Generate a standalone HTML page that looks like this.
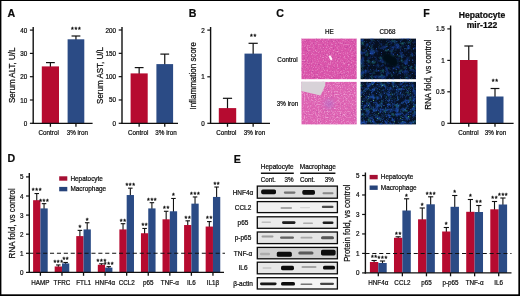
<!DOCTYPE html>
<html><head><meta charset="utf-8"><title>Figure</title>
<style>
html,body{margin:0;padding:0;background:#fff;}
body{width:520px;height:296px;overflow:hidden;position:relative;}
svg{display:block;position:absolute;left:0;top:0;}
svg text{font-family:"Liberation Sans",sans-serif;fill:#0c0c0c;stroke:#0c0c0c;stroke-width:0.22px;}
svg text.st{stroke-width:0.3px;}
#frame{position:absolute;left:0;top:0;width:520px;height:296px;box-sizing:border-box;border-style:solid;border-color:#000;border-width:1px 1.5px 2px 1.5px;pointer-events:none;}
</style></head><body>
<svg width="520" height="296" viewBox="0 0 520 296">
<defs>
<filter id="b1" x="-30%" y="-150%" width="160%" height="400%"><feGaussianBlur stdDeviation="0.65"/></filter>
<filter id="b05" x="-10%" y="-10%" width="120%" height="120%"><feGaussianBlur stdDeviation="0.5"/></filter>
<filter id="b12" x="-30%" y="-30%" width="160%" height="160%"><feGaussianBlur stdDeviation="1.2"/></filter>
<filter id="b2" x="-30%" y="-30%" width="160%" height="160%"><feGaussianBlur stdDeviation="2"/></filter>
<filter id="he" x="0" y="0" width="100%" height="100%" color-interpolation-filters="sRGB">
  <feTurbulence type="fractalNoise" baseFrequency="0.7" numOctaves="2" seed="3" result="n"/>
  <feColorMatrix in="n" type="matrix" values="0 0 0 0 0  0 0 0 0 0  0 0 0 0 0  2.4 0 0 0 -1.2" result="a"/>
  <feFlood flood-color="#eea0d2" result="f"/>
  <feComposite in="f" in2="a" operator="in" result="spots"/>
  <feColorMatrix in="n" type="matrix" values="0 0 0 0 0  0 0 0 0 0  0 0 0 0 0  0 3 0 0 -1.7" result="a2"/>
  <feFlood flood-color="#b8409c" result="f2"/>
  <feComposite in="f2" in2="a2" operator="in" result="dk"/>
  <feMerge result="m"><feMergeNode in="SourceGraphic"/><feMergeNode in="dk"/><feMergeNode in="spots"/></feMerge>
  <feGaussianBlur in="m" stdDeviation="0.45" result="bl"/>
  <feComposite in="bl" in2="SourceGraphic" operator="in"/>
</filter>
<filter id="he2" x="0" y="0" width="100%" height="100%" color-interpolation-filters="sRGB">
  <feTurbulence type="fractalNoise" baseFrequency="0.7" numOctaves="2" seed="11" result="n"/>
  <feColorMatrix in="n" type="matrix" values="0 0 0 0 0  0 0 0 0 0  0 0 0 0 0  2.4 0 0 0 -1.15" result="a"/>
  <feFlood flood-color="#f2b0dc" result="f"/>
  <feComposite in="f" in2="a" operator="in" result="spots"/>
  <feColorMatrix in="n" type="matrix" values="0 0 0 0 0  0 0 0 0 0  0 0 0 0 0  0 3 0 0 -1.75" result="a2"/>
  <feFlood flood-color="#c050a8" result="f2"/>
  <feComposite in="f2" in2="a2" operator="in" result="dk"/>
  <feMerge result="m"><feMergeNode in="SourceGraphic"/><feMergeNode in="dk"/><feMergeNode in="spots"/></feMerge>
  <feGaussianBlur in="m" stdDeviation="0.45" result="bl"/>
  <feComposite in="bl" in2="SourceGraphic" operator="in"/>
</filter>
<filter id="cd" x="0" y="0" width="100%" height="100%" color-interpolation-filters="sRGB">
  <feTurbulence type="fractalNoise" baseFrequency="0.2" numOctaves="3" seed="5" result="n"/>
  <feColorMatrix in="n" type="matrix" values="0 0 0 0 0  0 0 0 0 0  0 0 0 0 0  3.0 0 0 0 -1.45" result="a"/>
  <feFlood flood-color="#143888" result="f"/>
  <feComposite in="f" in2="a" operator="in" result="haze"/>
  <feColorMatrix in="n" type="matrix" values="0 0 0 0 0  0 0 0 0 0  0 0 0 0 0  0 0 3.2 0 -1.75" result="at"/>
  <feFlood flood-color="#1a5a66" result="ft"/>
  <feComposite in="ft" in2="at" operator="in" result="teal"/>
  <feTurbulence type="fractalNoise" baseFrequency="0.75" numOctaves="2" seed="15" result="n2"/>
  <feColorMatrix in="n2" type="matrix" values="0 0 0 0 0  0 0 0 0 0  0 0 0 0 0  0 3.5 0 0 -2.2" result="a2"/>
  <feFlood flood-color="#2a5cc0" result="f2"/>
  <feComposite in="f2" in2="a2" operator="in" result="spots"/>
  <feMerge result="m"><feMergeNode in="SourceGraphic"/><feMergeNode in="teal"/><feMergeNode in="haze"/><feMergeNode in="spots"/></feMerge>
  <feGaussianBlur in="m" stdDeviation="0.4" result="bl"/>
  <feComposite in="bl" in2="SourceGraphic" operator="in"/>
</filter>
<filter id="cd2" x="0" y="0" width="100%" height="100%" color-interpolation-filters="sRGB">
  <feTurbulence type="fractalNoise" baseFrequency="0.24" numOctaves="3" seed="8" result="n"/>
  <feColorMatrix in="n" type="matrix" values="0 0 0 0 0  0 0 0 0 0  0 0 0 0 0  3.0 0 0 0 -1.35" result="a"/>
  <feFlood flood-color="#184298" result="f"/>
  <feComposite in="f" in2="a" operator="in" result="haze"/>
  <feColorMatrix in="n" type="matrix" values="0 0 0 0 0  0 0 0 0 0  0 0 0 0 0  0 0 3.2 0 -1.7" result="at"/>
  <feFlood flood-color="#1c6068" result="ft"/>
  <feComposite in="ft" in2="at" operator="in" result="teal"/>
  <feTurbulence type="fractalNoise" baseFrequency="0.75" numOctaves="2" seed="18" result="n2"/>
  <feColorMatrix in="n2" type="matrix" values="0 0 0 0 0  0 0 0 0 0  0 0 0 0 0  0 3.5 0 0 -2.05" result="a2"/>
  <feFlood flood-color="#2c60c8" result="f2"/>
  <feComposite in="f2" in2="a2" operator="in" result="spots"/>
  <feColorMatrix in="n2" type="matrix" values="0 0 0 0 0  0 0 0 0 0  0 0 0 0 0  0 0 9 0 -6.6" result="a3"/>
  <feFlood flood-color="#58b070" result="f3"/>
  <feComposite in="f3" in2="a3" operator="in" result="gr"/>
  <feMerge result="m"><feMergeNode in="SourceGraphic"/><feMergeNode in="teal"/><feMergeNode in="haze"/><feMergeNode in="spots"/><feMergeNode in="gr"/></feMerge>
  <feGaussianBlur in="m" stdDeviation="0.4" result="bl"/>
  <feComposite in="bl" in2="SourceGraphic" operator="in"/>
</filter>
</defs>
<rect x="0" y="0" width="520" height="296" fill="#fff"/>
<text transform="translate(11.3 16.7) scale(0.95 1)" font-size="11.2" text-anchor="middle" font-weight="bold">A</text>
<line x1="50.40" y1="67.40" x2="50.40" y2="62.60" stroke="#111" stroke-width="1.2"/>
<line x1="46.00" y1="62.60" x2="54.80" y2="62.60" stroke="#111" stroke-width="1.2"/>
<rect x="41.80" y="66.40" width="17.20" height="56.90" fill="#b60b30"/>
<line x1="75.95" y1="40.30" x2="75.95" y2="36.00" stroke="#111" stroke-width="1.2"/>
<line x1="71.55" y1="36.00" x2="80.35" y2="36.00" stroke="#111" stroke-width="1.2"/>
<rect x="67.60" y="39.30" width="16.70" height="84.00" fill="#2b4b85"/>
<text class="st" transform="translate(76.19999999999999 31.599999999999998) scale(1.0 1)" font-size="7.2" text-anchor="middle" font-weight="normal" letter-spacing="0.65">***</text>
<line x1="33.20" y1="27.00" x2="33.20" y2="124.00" stroke="#111" stroke-width="1.4"/>
<line x1="29.90" y1="30.10" x2="33.20" y2="30.10" stroke="#111" stroke-width="1.2"/>
<text transform="translate(27.3 32.599999999999994) scale(0.94 1)" font-size="6.7" text-anchor="end" font-weight="normal">40</text>
<line x1="29.90" y1="53.40" x2="33.20" y2="53.40" stroke="#111" stroke-width="1.2"/>
<text transform="translate(27.3 55.89999999999999) scale(0.94 1)" font-size="6.7" text-anchor="end" font-weight="normal">30</text>
<line x1="29.90" y1="76.70" x2="33.20" y2="76.70" stroke="#111" stroke-width="1.2"/>
<text transform="translate(27.3 79.19999999999999) scale(0.94 1)" font-size="6.7" text-anchor="end" font-weight="normal">20</text>
<line x1="29.90" y1="100.00" x2="33.20" y2="100.00" stroke="#111" stroke-width="1.2"/>
<text transform="translate(27.3 102.5) scale(0.94 1)" font-size="6.7" text-anchor="end" font-weight="normal">10</text>
<line x1="29.90" y1="123.30" x2="33.20" y2="123.30" stroke="#111" stroke-width="1.2"/>
<text transform="translate(27.3 125.8) scale(0.94 1)" font-size="6.7" text-anchor="end" font-weight="normal">0</text>
<line x1="32.55" y1="123.30" x2="92.60" y2="123.30" stroke="#111" stroke-width="1.3"/>
<line x1="50.40" y1="123.30" x2="50.40" y2="126.80" stroke="#111" stroke-width="1.3"/>
<line x1="75.95" y1="123.30" x2="75.95" y2="126.80" stroke="#111" stroke-width="1.3"/>
<text transform="translate(48.7 135.1) scale(0.9 1)" font-size="7.0" text-anchor="middle" font-weight="normal">Control</text>
<text transform="translate(77.3 135.1) scale(0.9 1)" font-size="7.0" text-anchor="middle" font-weight="normal">3% iron</text>
<text transform="translate(15.0 75.3) rotate(-90) scale(0.87 1)" font-size="9.2" text-anchor="middle" font-weight="normal">Serum ALT, U/L</text>
<line x1="139.15" y1="74.40" x2="139.15" y2="67.60" stroke="#111" stroke-width="1.2"/>
<line x1="134.75" y1="67.60" x2="143.55" y2="67.60" stroke="#111" stroke-width="1.2"/>
<rect x="130.60" y="73.40" width="17.10" height="49.90" fill="#b60b30"/>
<line x1="164.75" y1="65.10" x2="164.75" y2="54.10" stroke="#111" stroke-width="1.2"/>
<line x1="160.35" y1="54.10" x2="169.15" y2="54.10" stroke="#111" stroke-width="1.2"/>
<rect x="156.40" y="64.10" width="16.70" height="59.20" fill="#2b4b85"/>
<line x1="122.00" y1="27.00" x2="122.00" y2="124.00" stroke="#111" stroke-width="1.4"/>
<line x1="118.70" y1="30.00" x2="122.00" y2="30.00" stroke="#111" stroke-width="1.2"/>
<text transform="translate(116.10000000000001 32.5) scale(0.94 1)" font-size="6.7" text-anchor="end" font-weight="normal">200</text>
<line x1="118.70" y1="53.33" x2="122.00" y2="53.33" stroke="#111" stroke-width="1.2"/>
<text transform="translate(116.10000000000001 55.825) scale(0.94 1)" font-size="6.7" text-anchor="end" font-weight="normal">150</text>
<line x1="118.70" y1="76.65" x2="122.00" y2="76.65" stroke="#111" stroke-width="1.2"/>
<text transform="translate(116.10000000000001 79.15) scale(0.94 1)" font-size="6.7" text-anchor="end" font-weight="normal">100</text>
<line x1="118.70" y1="99.97" x2="122.00" y2="99.97" stroke="#111" stroke-width="1.2"/>
<text transform="translate(116.10000000000001 102.475) scale(0.94 1)" font-size="6.7" text-anchor="end" font-weight="normal">50</text>
<line x1="118.70" y1="123.30" x2="122.00" y2="123.30" stroke="#111" stroke-width="1.2"/>
<text transform="translate(116.10000000000001 125.8) scale(0.94 1)" font-size="6.7" text-anchor="end" font-weight="normal">0</text>
<line x1="121.35" y1="123.30" x2="178.00" y2="123.30" stroke="#111" stroke-width="1.3"/>
<line x1="139.15" y1="123.30" x2="139.15" y2="126.80" stroke="#111" stroke-width="1.3"/>
<line x1="164.75" y1="123.30" x2="164.75" y2="126.80" stroke="#111" stroke-width="1.3"/>
<text transform="translate(138.2 135.1) scale(0.9 1)" font-size="7.0" text-anchor="middle" font-weight="normal">Control</text>
<text transform="translate(166 135.1) scale(0.9 1)" font-size="7.0" text-anchor="middle" font-weight="normal">3% iron</text>
<text transform="translate(103.3 75.5) rotate(-90) scale(0.87 1)" font-size="9.2" text-anchor="middle" font-weight="normal">Serum AST, U/L</text>
<text transform="translate(192.5 16.7) scale(0.95 1)" font-size="11.2" text-anchor="middle" font-weight="bold">B</text>
<line x1="227.50" y1="109.10" x2="227.50" y2="98.30" stroke="#111" stroke-width="1.2"/>
<line x1="222.90" y1="98.30" x2="232.10" y2="98.30" stroke="#111" stroke-width="1.2"/>
<rect x="218.80" y="108.10" width="17.40" height="15.20" fill="#b60b30"/>
<line x1="253.15" y1="54.60" x2="253.15" y2="43.30" stroke="#111" stroke-width="1.2"/>
<line x1="248.55" y1="43.30" x2="257.75" y2="43.30" stroke="#111" stroke-width="1.2"/>
<rect x="244.50" y="53.60" width="17.30" height="69.70" fill="#2b4b85"/>
<text class="st" transform="translate(253.4 38.8) scale(1.0 1)" font-size="7.2" text-anchor="middle" font-weight="normal" letter-spacing="0.65">**</text>
<line x1="210.60" y1="27.00" x2="210.60" y2="124.00" stroke="#111" stroke-width="1.4"/>
<line x1="207.30" y1="30.10" x2="210.60" y2="30.10" stroke="#111" stroke-width="1.2"/>
<text transform="translate(204.7 32.6) scale(0.94 1)" font-size="6.7" text-anchor="end" font-weight="normal">2</text>
<line x1="207.30" y1="76.80" x2="210.60" y2="76.80" stroke="#111" stroke-width="1.2"/>
<text transform="translate(204.7 79.3) scale(0.94 1)" font-size="6.7" text-anchor="end" font-weight="normal">1</text>
<line x1="207.30" y1="123.30" x2="210.60" y2="123.30" stroke="#111" stroke-width="1.2"/>
<text transform="translate(204.7 125.8) scale(0.94 1)" font-size="6.7" text-anchor="end" font-weight="normal">0</text>
<line x1="209.95" y1="123.30" x2="270.00" y2="123.30" stroke="#111" stroke-width="1.3"/>
<line x1="227.50" y1="123.30" x2="227.50" y2="126.80" stroke="#111" stroke-width="1.3"/>
<line x1="253.15" y1="123.30" x2="253.15" y2="126.80" stroke="#111" stroke-width="1.3"/>
<text transform="translate(226.3 135.1) scale(0.9 1)" font-size="7.0" text-anchor="middle" font-weight="normal">Control</text>
<text transform="translate(254.5 135.1) scale(0.9 1)" font-size="7.0" text-anchor="middle" font-weight="normal">3% iron</text>
<text transform="translate(195.8 75.8) rotate(-90) scale(0.87 1)" font-size="9.2" text-anchor="middle" font-weight="normal">Inflammation score</text>
<text transform="translate(280 16.7) scale(0.95 1)" font-size="11.2" text-anchor="middle" font-weight="bold">C</text>
<text transform="translate(329.3 33.9) scale(0.9 1)" font-size="7.0" text-anchor="middle" font-weight="normal">HE</text>
<text transform="translate(387.5 33.9) scale(0.9 1)" font-size="7.0" text-anchor="middle" font-weight="normal">CD68</text>
<text transform="translate(287.5 61.5) scale(0.9 1)" font-size="7.0" text-anchor="middle" font-weight="normal">Control</text>
<text transform="translate(287.5 106) scale(0.9 1)" font-size="7.0" text-anchor="middle" font-weight="normal">3% iron</text>
<rect x="301.3" y="38.4" width="55.5" height="41" fill="#da54aa" filter="url(#he)"/>
<rect x="301.3" y="81.7" width="55.5" height="42.9" fill="#de62b2" filter="url(#he2)"/>
<ellipse cx="329" cy="104" rx="5" ry="5" fill="#a878d0" opacity="0.45" filter="url(#b2)"/>
<path d="M301.3 81.7h24.2l-.5 4.3-4.5 9.5-6.5-1.5-12.7-3z" fill="#d8d2d8" filter="url(#b05)"/>
<path d="M328.6 56l1.6-.8 1.2 1.6 1 2.6-1.6 1-1.2-1.8z" fill="#fbeef6"/>
<rect x="360.4" y="38.4" width="55.6" height="41" fill="#060f20" filter="url(#cd)"/>
<ellipse cx="390.5" cy="60" rx="9.5" ry="5.5" transform="rotate(35 390.5 60)" fill="#040a18" opacity="1" filter="url(#b12)"/>
<rect x="360.4" y="81.7" width="55.6" height="42.9" fill="#071226" filter="url(#cd2)"/>
<text transform="translate(426.5 16.7) scale(0.95 1)" font-size="11.2" text-anchor="middle" font-weight="bold">F</text>
<text transform="translate(482 17.5) scale(1.0 1)" font-size="8.6" text-anchor="middle" font-weight="bold">Hepatocyte</text>
<text transform="translate(482 27.7) scale(1.0 1)" font-size="8.6" text-anchor="middle" font-weight="bold">mir-122</text>
<line x1="468.75" y1="61.00" x2="468.75" y2="46.00" stroke="#111" stroke-width="1.2"/>
<line x1="464.35" y1="46.00" x2="473.15" y2="46.00" stroke="#111" stroke-width="1.2"/>
<rect x="460.00" y="60.00" width="17.50" height="63.30" fill="#b60b30"/>
<line x1="495.00" y1="97.50" x2="495.00" y2="88.50" stroke="#111" stroke-width="1.2"/>
<line x1="490.60" y1="88.50" x2="499.40" y2="88.50" stroke="#111" stroke-width="1.2"/>
<rect x="486.50" y="96.50" width="17.00" height="26.80" fill="#2b4b85"/>
<text class="st" transform="translate(495.25 84.3) scale(1.0 1)" font-size="7.2" text-anchor="middle" font-weight="normal" letter-spacing="0.65">**</text>
<line x1="450.60" y1="25.50" x2="450.60" y2="124.00" stroke="#111" stroke-width="1.4"/>
<line x1="447.30" y1="28.90" x2="450.60" y2="28.90" stroke="#111" stroke-width="1.2"/>
<text transform="translate(444.7 31.4) scale(0.94 1)" font-size="6.7" text-anchor="end" font-weight="normal">1.5</text>
<line x1="447.30" y1="60.40" x2="450.60" y2="60.40" stroke="#111" stroke-width="1.2"/>
<text transform="translate(444.7 62.9) scale(0.94 1)" font-size="6.7" text-anchor="end" font-weight="normal">1</text>
<line x1="447.30" y1="91.80" x2="450.60" y2="91.80" stroke="#111" stroke-width="1.2"/>
<text transform="translate(444.7 94.3) scale(0.94 1)" font-size="6.7" text-anchor="end" font-weight="normal">0.5</text>
<line x1="447.30" y1="123.30" x2="450.60" y2="123.30" stroke="#111" stroke-width="1.2"/>
<text transform="translate(444.7 125.8) scale(0.94 1)" font-size="6.7" text-anchor="end" font-weight="normal">0</text>
<line x1="449.95" y1="123.30" x2="513.60" y2="123.30" stroke="#111" stroke-width="1.3"/>
<line x1="468.75" y1="123.30" x2="468.75" y2="126.80" stroke="#111" stroke-width="1.3"/>
<line x1="495.00" y1="123.30" x2="495.00" y2="126.80" stroke="#111" stroke-width="1.3"/>
<text transform="translate(468.4 135.1) scale(0.9 1)" font-size="7.0" text-anchor="middle" font-weight="normal">Control</text>
<text transform="translate(495.5 135.1) scale(0.9 1)" font-size="7.0" text-anchor="middle" font-weight="normal">3% iron</text>
<text transform="translate(431 74.6) rotate(-90) scale(0.87 1)" font-size="9.2" text-anchor="middle" font-weight="normal">RNA fold, vs control</text>
<text transform="translate(11.3 162) scale(0.95 1)" font-size="11.2" text-anchor="middle" font-weight="bold">D</text>
<line x1="36.75" y1="201.20" x2="36.75" y2="193.52" stroke="#111" stroke-width="1.1"/>
<line x1="34.49" y1="193.52" x2="39.01" y2="193.52" stroke="#111" stroke-width="1.1"/>
<rect x="33.10" y="200.20" width="7.30" height="72.20" fill="#b60b30"/>
<text class="st" transform="translate(37.0 193.41699999999997) scale(1.0 1)" font-size="7.2" text-anchor="middle" font-weight="normal" letter-spacing="0.65">***</text>
<line x1="44.05" y1="209.41" x2="44.05" y2="203.64" stroke="#111" stroke-width="1.1"/>
<line x1="41.79" y1="203.64" x2="46.31" y2="203.64" stroke="#111" stroke-width="1.1"/>
<rect x="40.40" y="208.41" width="7.30" height="63.99" fill="#2b4b85"/>
<text class="st" transform="translate(44.3 203.54) scale(1.0 1)" font-size="7.2" text-anchor="middle" font-weight="normal" letter-spacing="0.65">***</text>
<text transform="translate(40.4 284.6) scale(0.9 1)" font-size="7.0" text-anchor="middle" font-weight="normal">HAMP</text>
<line x1="40.40" y1="272.40" x2="40.40" y2="275.80" stroke="#111" stroke-width="1.3"/>
<line x1="58.32" y1="267.48" x2="58.32" y2="264.95" stroke="#111" stroke-width="1.1"/>
<line x1="56.06" y1="264.95" x2="60.58" y2="264.95" stroke="#111" stroke-width="1.1"/>
<rect x="54.67" y="266.48" width="7.30" height="5.92" fill="#b60b30"/>
<text class="st" transform="translate(58.57 264.851) scale(1.0 1)" font-size="7.2" text-anchor="middle" font-weight="normal" letter-spacing="0.65">***</text>
<line x1="65.62" y1="264.42" x2="65.62" y2="262.47" stroke="#111" stroke-width="1.1"/>
<line x1="63.36" y1="262.47" x2="67.88" y2="262.47" stroke="#111" stroke-width="1.1"/>
<rect x="61.97" y="263.42" width="7.30" height="8.98" fill="#2b4b85"/>
<text class="st" transform="translate(65.87 262.368) scale(1.0 1)" font-size="7.2" text-anchor="middle" font-weight="normal" letter-spacing="0.65">**</text>
<text transform="translate(61.97 284.6) scale(0.9 1)" font-size="7.0" text-anchor="middle" font-weight="normal">TFRC</text>
<line x1="61.97" y1="272.40" x2="61.97" y2="275.80" stroke="#111" stroke-width="1.3"/>
<line x1="79.89" y1="237.11" x2="79.89" y2="230.38" stroke="#111" stroke-width="1.1"/>
<line x1="77.63" y1="230.38" x2="82.15" y2="230.38" stroke="#111" stroke-width="1.1"/>
<rect x="76.24" y="236.11" width="7.30" height="36.29" fill="#b60b30"/>
<text class="st" transform="translate(80.13999999999999 230.27999999999997) scale(1.0 1)" font-size="7.2" text-anchor="middle" font-weight="normal" letter-spacing="0.65">*</text>
<line x1="87.19" y1="230.42" x2="87.19" y2="222.74" stroke="#111" stroke-width="1.1"/>
<line x1="84.93" y1="222.74" x2="89.45" y2="222.74" stroke="#111" stroke-width="1.1"/>
<rect x="83.54" y="229.42" width="7.30" height="42.97" fill="#2b4b85"/>
<text class="st" transform="translate(87.44 222.64) scale(1.0 1)" font-size="7.2" text-anchor="middle" font-weight="normal" letter-spacing="0.65">*</text>
<text transform="translate(83.53999999999999 284.6) scale(0.9 1)" font-size="7.0" text-anchor="middle" font-weight="normal">FTL1</text>
<line x1="83.54" y1="272.40" x2="83.54" y2="275.80" stroke="#111" stroke-width="1.3"/>
<line x1="101.46" y1="265.76" x2="101.46" y2="263.80" stroke="#111" stroke-width="1.1"/>
<line x1="99.20" y1="263.80" x2="103.72" y2="263.80" stroke="#111" stroke-width="1.1"/>
<rect x="97.81" y="264.76" width="7.30" height="7.64" fill="#b60b30"/>
<text class="st" transform="translate(101.71000000000001 263.705) scale(1.0 1)" font-size="7.2" text-anchor="middle" font-weight="normal" letter-spacing="0.65">***</text>
<line x1="108.76" y1="268.62" x2="108.76" y2="266.67" stroke="#111" stroke-width="1.1"/>
<line x1="106.50" y1="266.67" x2="111.02" y2="266.67" stroke="#111" stroke-width="1.1"/>
<rect x="105.11" y="267.62" width="7.30" height="4.77" fill="#2b4b85"/>
<text class="st" transform="translate(109.01000000000002 266.57) scale(1.0 1)" font-size="7.2" text-anchor="middle" font-weight="normal" letter-spacing="0.65">***</text>
<text transform="translate(105.11000000000001 284.6) scale(0.9 1)" font-size="7.0" text-anchor="middle" font-weight="normal">HNF4α</text>
<line x1="105.11" y1="272.40" x2="105.11" y2="275.80" stroke="#111" stroke-width="1.3"/>
<line x1="123.03" y1="230.42" x2="123.03" y2="223.69" stroke="#111" stroke-width="1.1"/>
<line x1="120.77" y1="223.69" x2="125.29" y2="223.69" stroke="#111" stroke-width="1.1"/>
<rect x="119.38" y="229.42" width="7.30" height="42.97" fill="#b60b30"/>
<text class="st" transform="translate(123.28 223.595) scale(1.0 1)" font-size="7.2" text-anchor="middle" font-weight="normal" letter-spacing="0.65">**</text>
<line x1="130.33" y1="196.04" x2="130.33" y2="188.17" stroke="#111" stroke-width="1.1"/>
<line x1="128.07" y1="188.17" x2="132.59" y2="188.17" stroke="#111" stroke-width="1.1"/>
<rect x="126.68" y="195.04" width="7.30" height="77.36" fill="#2b4b85"/>
<text class="st" transform="translate(130.58 188.069) scale(1.0 1)" font-size="7.2" text-anchor="middle" font-weight="normal" letter-spacing="0.65">***</text>
<text transform="translate(126.68 284.6) scale(0.9 1)" font-size="7.0" text-anchor="middle" font-weight="normal">CCL2</text>
<line x1="126.68" y1="272.40" x2="126.68" y2="275.80" stroke="#111" stroke-width="1.3"/>
<line x1="144.60" y1="234.24" x2="144.60" y2="228.47" stroke="#111" stroke-width="1.1"/>
<line x1="142.34" y1="228.47" x2="146.86" y2="228.47" stroke="#111" stroke-width="1.1"/>
<rect x="140.95" y="233.24" width="7.30" height="39.16" fill="#b60b30"/>
<text class="st" transform="translate(144.85 228.36999999999998) scale(1.0 1)" font-size="7.2" text-anchor="middle" font-weight="normal" letter-spacing="0.65">**</text>
<line x1="151.90" y1="209.41" x2="151.90" y2="202.68" stroke="#111" stroke-width="1.1"/>
<line x1="149.64" y1="202.68" x2="154.16" y2="202.68" stroke="#111" stroke-width="1.1"/>
<rect x="148.25" y="208.41" width="7.30" height="63.99" fill="#2b4b85"/>
<text class="st" transform="translate(152.15 202.58499999999998) scale(1.0 1)" font-size="7.2" text-anchor="middle" font-weight="normal" letter-spacing="0.65">***</text>
<text transform="translate(148.25 284.6) scale(0.9 1)" font-size="7.0" text-anchor="middle" font-weight="normal">p65</text>
<line x1="148.25" y1="272.40" x2="148.25" y2="275.80" stroke="#111" stroke-width="1.3"/>
<line x1="166.17" y1="220.30" x2="166.17" y2="211.28" stroke="#111" stroke-width="1.1"/>
<line x1="163.91" y1="211.28" x2="168.43" y2="211.28" stroke="#111" stroke-width="1.1"/>
<rect x="162.52" y="219.30" width="7.30" height="53.10" fill="#b60b30"/>
<text class="st" transform="translate(166.42000000000002 211.17999999999998) scale(1.0 1)" font-size="7.2" text-anchor="middle" font-weight="normal" letter-spacing="0.65">**</text>
<line x1="173.47" y1="212.28" x2="173.47" y2="198.48" stroke="#111" stroke-width="1.1"/>
<line x1="171.21" y1="198.48" x2="175.73" y2="198.48" stroke="#111" stroke-width="1.1"/>
<rect x="169.82" y="211.28" width="7.30" height="61.12" fill="#2b4b85"/>
<text class="st" transform="translate(173.72000000000003 198.38299999999998) scale(1.0 1)" font-size="7.2" text-anchor="middle" font-weight="normal" letter-spacing="0.65">*</text>
<text transform="translate(169.82000000000002 284.6) scale(0.9 1)" font-size="7.0" text-anchor="middle" font-weight="normal">TNF-α</text>
<line x1="169.82" y1="272.40" x2="169.82" y2="275.80" stroke="#111" stroke-width="1.3"/>
<line x1="187.74" y1="226.03" x2="187.74" y2="220.83" stroke="#111" stroke-width="1.1"/>
<line x1="185.48" y1="220.83" x2="190.00" y2="220.83" stroke="#111" stroke-width="1.1"/>
<rect x="184.09" y="225.03" width="7.30" height="47.37" fill="#b60b30"/>
<text class="st" transform="translate(187.99 220.73) scale(1.0 1)" font-size="7.2" text-anchor="middle" font-weight="normal" letter-spacing="0.65">**</text>
<line x1="195.04" y1="204.64" x2="195.04" y2="196.95" stroke="#111" stroke-width="1.1"/>
<line x1="192.78" y1="196.95" x2="197.30" y2="196.95" stroke="#111" stroke-width="1.1"/>
<rect x="191.39" y="203.64" width="7.30" height="68.76" fill="#2b4b85"/>
<text class="st" transform="translate(195.29000000000002 196.855) scale(1.0 1)" font-size="7.2" text-anchor="middle" font-weight="normal" letter-spacing="0.65">***</text>
<text transform="translate(191.39000000000001 284.6) scale(0.9 1)" font-size="7.0" text-anchor="middle" font-weight="normal">IL6</text>
<line x1="191.39" y1="272.40" x2="191.39" y2="275.80" stroke="#111" stroke-width="1.3"/>
<line x1="209.31" y1="227.56" x2="209.31" y2="221.59" stroke="#111" stroke-width="1.1"/>
<line x1="207.05" y1="221.59" x2="211.57" y2="221.59" stroke="#111" stroke-width="1.1"/>
<rect x="205.66" y="226.56" width="7.30" height="45.84" fill="#b60b30"/>
<text class="st" transform="translate(209.56 221.49399999999997) scale(1.0 1)" font-size="7.2" text-anchor="middle" font-weight="normal" letter-spacing="0.65">**</text>
<line x1="216.61" y1="197.95" x2="216.61" y2="187.02" stroke="#111" stroke-width="1.1"/>
<line x1="214.35" y1="187.02" x2="218.87" y2="187.02" stroke="#111" stroke-width="1.1"/>
<rect x="212.96" y="196.95" width="7.30" height="75.44" fill="#2b4b85"/>
<text class="st" transform="translate(216.86 186.92299999999997) scale(1.0 1)" font-size="7.2" text-anchor="middle" font-weight="normal" letter-spacing="0.65">**</text>
<text transform="translate(212.96 284.6) scale(0.9 1)" font-size="7.0" text-anchor="middle" font-weight="normal">IL1β</text>
<line x1="212.96" y1="272.40" x2="212.96" y2="275.80" stroke="#111" stroke-width="1.3"/>
<line x1="29.30" y1="173.00" x2="29.30" y2="273.10" stroke="#111" stroke-width="1.4"/>
<line x1="26.00" y1="176.90" x2="29.30" y2="176.90" stroke="#111" stroke-width="1.2"/>
<text transform="translate(23.4 179.39999999999998) scale(0.94 1)" font-size="6.7" text-anchor="end" font-weight="normal">5</text>
<line x1="26.00" y1="196.00" x2="29.30" y2="196.00" stroke="#111" stroke-width="1.2"/>
<text transform="translate(23.4 198.49999999999997) scale(0.94 1)" font-size="6.7" text-anchor="end" font-weight="normal">4</text>
<line x1="26.00" y1="215.10" x2="29.30" y2="215.10" stroke="#111" stroke-width="1.2"/>
<text transform="translate(23.4 217.59999999999997) scale(0.94 1)" font-size="6.7" text-anchor="end" font-weight="normal">3</text>
<line x1="26.00" y1="234.20" x2="29.30" y2="234.20" stroke="#111" stroke-width="1.2"/>
<text transform="translate(23.4 236.7) scale(0.94 1)" font-size="6.7" text-anchor="end" font-weight="normal">2</text>
<line x1="26.00" y1="253.30" x2="29.30" y2="253.30" stroke="#111" stroke-width="1.2"/>
<text transform="translate(23.4 255.79999999999998) scale(0.94 1)" font-size="6.7" text-anchor="end" font-weight="normal">1</text>
<line x1="26.00" y1="272.40" x2="29.30" y2="272.40" stroke="#111" stroke-width="1.2"/>
<text transform="translate(23.4 274.9) scale(0.94 1)" font-size="6.7" text-anchor="end" font-weight="normal">0</text>
<line x1="28.65" y1="272.40" x2="224.00" y2="272.40" stroke="#111" stroke-width="1.3"/>
<line x1="29.30" y1="253.30" x2="225.00" y2="253.30" stroke="#111" stroke-width="1.05" stroke-dasharray="4.1 2.8"/>
<text transform="translate(14.9 223.3) rotate(-90) scale(0.87 1)" font-size="9.2" text-anchor="middle" font-weight="normal">RNA fold, vs control</text>
<rect x="59.20" y="176.30" width="8.10" height="4.40" fill="#a50f33"/>
<text transform="translate(70.4 180.8) scale(0.92 1)" font-size="7.0" text-anchor="start" font-weight="normal">Hepatocyte</text>
<rect x="59.20" y="186.90" width="8.10" height="4.40" fill="#26437a"/>
<text transform="translate(70.4 191.20000000000002) scale(0.92 1)" font-size="7.0" text-anchor="start" font-weight="normal">Macrophage</text>
<text transform="translate(237.2 162.7) scale(0.95 1)" font-size="11.2" text-anchor="middle" font-weight="bold">E</text>
<text transform="translate(277.2 168.7) scale(0.93 1)" font-size="7.0" text-anchor="middle" font-weight="normal">Hepatocyte</text>
<text transform="translate(317.8 168.7) scale(0.93 1)" font-size="7.0" text-anchor="middle" font-weight="normal">Macrophage</text>
<line x1="260.90" y1="173.30" x2="293.80" y2="173.30" stroke="#111" stroke-width="1.4"/>
<line x1="300.20" y1="173.30" x2="335.40" y2="173.30" stroke="#111" stroke-width="1.4"/>
<text transform="translate(268.3 182.3) scale(0.9 1)" font-size="7.0" text-anchor="middle" font-weight="normal">Cont.</text>
<text transform="translate(289 182.3) scale(0.9 1)" font-size="7.0" text-anchor="middle" font-weight="normal">3%</text>
<text transform="translate(307.5 182.3) scale(0.9 1)" font-size="7.0" text-anchor="middle" font-weight="normal">Cont.</text>
<text transform="translate(329.3 182.3) scale(0.9 1)" font-size="7.0" text-anchor="middle" font-weight="normal">3%</text>
<rect x="257.3" y="186.1" width="80.1" height="12.1" fill="#dedede"/>
<rect x="261.2" y="189.60" width="14.8" height="4.6" rx="1.6" fill="#080808" opacity="1.0" filter="url(#b1)"/>
<rect x="283.8" y="191.50" width="11.7" height="2.2" rx="1.1" fill="#080808" opacity="0.5" filter="url(#b1)"/>
<rect x="302.3" y="190.10" width="12.7" height="4.6" rx="1.6" fill="#080808" opacity="1.0" filter="url(#b1)"/>
<rect x="322.5" y="192.20" width="11.0" height="2.0" rx="1.0" fill="#080808" opacity="0.4" filter="url(#b1)"/>
<rect x="257.3" y="186.1" width="80.1" height="12.1" fill="none" stroke="#0a0a0a" stroke-width="1.3"/>
<text transform="translate(243 194.54999999999998) scale(0.93 1)" font-size="7.0" text-anchor="middle" font-weight="normal">HNF4α</text>
<rect x="257.3" y="201.6" width="80.1" height="11.0" fill="#f1f1f1"/>
<rect x="280.5" y="207.10" width="11.5" height="1.8" rx="0.9" fill="#080808" opacity="0.32" filter="url(#b1)"/>
<rect x="300" y="207.00" width="10.0" height="1.2" rx="0.6" fill="#080808" opacity="0.12" filter="url(#b1)"/>
<rect x="321.8" y="205.80" width="11.7" height="2.2" rx="1.1" fill="#080808" opacity="0.72" filter="url(#b1)"/>
<rect x="257.3" y="201.6" width="80.1" height="11.0" fill="none" stroke="#0a0a0a" stroke-width="1.3"/>
<text transform="translate(243 209.5) scale(0.93 1)" font-size="7.0" text-anchor="middle" font-weight="normal">CCL2</text>
<rect x="257.3" y="216.8" width="80.1" height="11.5" fill="#ececec"/>
<rect x="261.5" y="221.50" width="9.5" height="1.4" rx="0.7" fill="#080808" opacity="0.2" filter="url(#b1)"/>
<rect x="282" y="221.30" width="13.5" height="2.6" rx="1.3" fill="#080808" opacity="0.92" filter="url(#b1)"/>
<rect x="303" y="222.45" width="10.0" height="1.5" rx="0.8" fill="#080808" opacity="0.28" filter="url(#b1)"/>
<rect x="322.6" y="221.50" width="10.9" height="2.6" rx="1.3" fill="#080808" opacity="0.92" filter="url(#b1)"/>
<rect x="257.3" y="216.8" width="80.1" height="11.5" fill="none" stroke="#0a0a0a" stroke-width="1.3"/>
<text transform="translate(243 224.95000000000002) scale(0.93 1)" font-size="7.0" text-anchor="middle" font-weight="normal">p65</text>
<rect x="257.3" y="232" width="80.1" height="11.6" fill="#e5e5e5"/>
<rect x="261.5" y="235.60" width="12.0" height="2.0" rx="1.0" fill="#080808" opacity="0.32" filter="url(#b1)"/>
<rect x="280" y="236.40" width="14.0" height="2.4" rx="1.2" fill="#080808" opacity="0.6" filter="url(#b1)"/>
<rect x="300.5" y="236.80" width="12.0" height="1.8" rx="0.9" fill="#080808" opacity="0.28" filter="url(#b1)"/>
<rect x="321" y="236.20" width="13.0" height="3.0" rx="1.5" fill="#080808" opacity="0.65" filter="url(#b1)"/>
<rect x="257.3" y="232" width="80.1" height="11.6" fill="none" stroke="#0a0a0a" stroke-width="1.3"/>
<text transform="translate(243 240.20000000000002) scale(0.93 1)" font-size="7.0" text-anchor="middle" font-weight="normal">p-p65</text>
<rect x="257.3" y="247.4" width="80.1" height="11.4" fill="#d0d0d0"/>
<rect x="260" y="252.75" width="10.0" height="2.5" rx="1.2" fill="#080808" opacity="0.18" filter="url(#b1)"/>
<rect x="276.8" y="251.80" width="15.0" height="5.0" rx="1.6" fill="#080808" opacity="1.0" filter="url(#b1)"/>
<rect x="298.3" y="251.50" width="15.2" height="3.0" rx="1.5" fill="#080808" opacity="0.6" filter="url(#b1)"/>
<rect x="321" y="249.80" width="14.6" height="5.6" rx="1.6" fill="#080808" opacity="1.0" filter="url(#b1)"/>
<rect x="257.3" y="247.4" width="80.1" height="11.4" fill="none" stroke="#0a0a0a" stroke-width="1.3"/>
<text transform="translate(243 255.50000000000003) scale(0.93 1)" font-size="7.0" text-anchor="middle" font-weight="normal">TNF-α</text>
<rect x="257.3" y="262.2" width="80.1" height="11.6" fill="#e7e7e7"/>
<rect x="262.5" y="267.30" width="9.0" height="1.4" rx="0.7" fill="#080808" opacity="0.14" filter="url(#b1)"/>
<rect x="281" y="265.80" width="13.0" height="4.4" rx="1.6" fill="#080808" opacity="1.0" filter="url(#b1)"/>
<rect x="301.5" y="266.10" width="15.0" height="1.8" rx="0.9" fill="#080808" opacity="0.3" filter="url(#b1)"/>
<rect x="323" y="265.80" width="12.0" height="3.8" rx="1.6" fill="#080808" opacity="1.0" filter="url(#b1)"/>
<rect x="257.3" y="262.2" width="80.1" height="11.6" fill="none" stroke="#0a0a0a" stroke-width="1.3"/>
<text transform="translate(243 270.4) scale(0.93 1)" font-size="7.0" text-anchor="middle" font-weight="normal">IL6</text>
<rect x="257.3" y="277.7" width="80.1" height="11.3" fill="#f4f4f4"/>
<rect x="260" y="282.40" width="16.6" height="2.8" rx="1.4" fill="#080808" opacity="0.95" filter="url(#b1)"/>
<rect x="281" y="282.10" width="14.0" height="3.4" rx="1.6" fill="#080808" opacity="1.0" filter="url(#b1)"/>
<rect x="300.5" y="283.50" width="11.9" height="1.6" rx="0.8" fill="#080808" opacity="0.55" filter="url(#b1)"/>
<rect x="320" y="282.70" width="14.0" height="2.2" rx="1.1" fill="#080808" opacity="0.75" filter="url(#b1)"/>
<rect x="257.3" y="277.7" width="80.1" height="11.3" fill="none" stroke="#0a0a0a" stroke-width="1.3"/>
<text transform="translate(243 285.75) scale(0.93 1)" font-size="7.0" text-anchor="middle" font-weight="normal">β-actin</text>
<line x1="374.10" y1="263.00" x2="374.10" y2="260.50" stroke="#111" stroke-width="1.1"/>
<line x1="371.50" y1="260.50" x2="376.70" y2="260.50" stroke="#111" stroke-width="1.1"/>
<rect x="369.90" y="262.00" width="8.40" height="10.90" fill="#b60b30"/>
<text class="st" transform="translate(374.35 260.40000000000003) scale(1.0 1)" font-size="7.2" text-anchor="middle" font-weight="normal" letter-spacing="0.65">**</text>
<line x1="382.50" y1="264.00" x2="382.50" y2="261.00" stroke="#111" stroke-width="1.1"/>
<line x1="379.90" y1="261.00" x2="385.10" y2="261.00" stroke="#111" stroke-width="1.1"/>
<rect x="378.30" y="263.00" width="8.40" height="9.90" fill="#2b4b85"/>
<text class="st" transform="translate(382.75 260.90000000000003) scale(1.0 1)" font-size="7.2" text-anchor="middle" font-weight="normal" letter-spacing="0.65">***</text>
<text transform="translate(378.3 284.8) scale(0.9 1)" font-size="7.0" text-anchor="middle" font-weight="normal">HNF4α</text>
<line x1="378.30" y1="272.90" x2="378.30" y2="276.30" stroke="#111" stroke-width="1.3"/>
<line x1="398.18" y1="238.80" x2="398.18" y2="236.80" stroke="#111" stroke-width="1.1"/>
<line x1="395.58" y1="236.80" x2="400.78" y2="236.80" stroke="#111" stroke-width="1.1"/>
<rect x="393.98" y="237.80" width="8.40" height="35.10" fill="#b60b30"/>
<text class="st" transform="translate(398.43 236.70000000000002) scale(1.0 1)" font-size="7.2" text-anchor="middle" font-weight="normal" letter-spacing="0.65">**</text>
<line x1="406.58" y1="211.50" x2="406.58" y2="198.80" stroke="#111" stroke-width="1.1"/>
<line x1="403.98" y1="198.80" x2="409.18" y2="198.80" stroke="#111" stroke-width="1.1"/>
<rect x="402.38" y="210.50" width="8.40" height="62.40" fill="#2b4b85"/>
<text class="st" transform="translate(406.83 198.70000000000002) scale(1.0 1)" font-size="7.2" text-anchor="middle" font-weight="normal" letter-spacing="0.65">*</text>
<text transform="translate(402.38 284.8) scale(0.9 1)" font-size="7.0" text-anchor="middle" font-weight="normal">CCL2</text>
<line x1="402.38" y1="272.90" x2="402.38" y2="276.30" stroke="#111" stroke-width="1.3"/>
<line x1="422.26" y1="220.30" x2="422.26" y2="208.00" stroke="#111" stroke-width="1.1"/>
<line x1="419.66" y1="208.00" x2="424.86" y2="208.00" stroke="#111" stroke-width="1.1"/>
<rect x="418.06" y="219.30" width="8.40" height="53.60" fill="#b60b30"/>
<text class="st" transform="translate(422.51000000000005 207.9) scale(1.0 1)" font-size="7.2" text-anchor="middle" font-weight="normal" letter-spacing="0.65">*</text>
<line x1="430.66" y1="205.30" x2="430.66" y2="196.80" stroke="#111" stroke-width="1.1"/>
<line x1="428.06" y1="196.80" x2="433.26" y2="196.80" stroke="#111" stroke-width="1.1"/>
<rect x="426.46" y="204.30" width="8.40" height="68.60" fill="#2b4b85"/>
<text class="st" transform="translate(430.91 196.70000000000002) scale(1.0 1)" font-size="7.2" text-anchor="middle" font-weight="normal" letter-spacing="0.65">***</text>
<text transform="translate(426.46000000000004 284.8) scale(0.9 1)" font-size="7.0" text-anchor="middle" font-weight="normal">p65</text>
<line x1="426.46" y1="272.90" x2="426.46" y2="276.30" stroke="#111" stroke-width="1.3"/>
<line x1="446.34" y1="232.50" x2="446.34" y2="227.50" stroke="#111" stroke-width="1.1"/>
<line x1="443.74" y1="227.50" x2="448.94" y2="227.50" stroke="#111" stroke-width="1.1"/>
<rect x="442.14" y="231.50" width="8.40" height="41.40" fill="#b60b30"/>
<text class="st" transform="translate(446.59000000000003 227.4) scale(1.0 1)" font-size="7.2" text-anchor="middle" font-weight="normal" letter-spacing="0.65">*</text>
<line x1="454.74" y1="207.80" x2="454.74" y2="195.50" stroke="#111" stroke-width="1.1"/>
<line x1="452.14" y1="195.50" x2="457.34" y2="195.50" stroke="#111" stroke-width="1.1"/>
<rect x="450.54" y="206.80" width="8.40" height="66.10" fill="#2b4b85"/>
<text class="st" transform="translate(454.99 195.4) scale(1.0 1)" font-size="7.2" text-anchor="middle" font-weight="normal" letter-spacing="0.65">*</text>
<text transform="translate(450.54 284.8) scale(0.9 1)" font-size="7.0" text-anchor="middle" font-weight="normal">p-p65</text>
<line x1="450.54" y1="272.90" x2="450.54" y2="276.30" stroke="#111" stroke-width="1.3"/>
<line x1="470.42" y1="212.80" x2="470.42" y2="199.50" stroke="#111" stroke-width="1.1"/>
<line x1="467.82" y1="199.50" x2="473.02" y2="199.50" stroke="#111" stroke-width="1.1"/>
<rect x="466.22" y="211.80" width="8.40" height="61.10" fill="#b60b30"/>
<text class="st" transform="translate(470.67 199.4) scale(1.0 1)" font-size="7.2" text-anchor="middle" font-weight="normal" letter-spacing="0.65">*</text>
<line x1="478.82" y1="213.00" x2="478.82" y2="205.50" stroke="#111" stroke-width="1.1"/>
<line x1="476.22" y1="205.50" x2="481.42" y2="205.50" stroke="#111" stroke-width="1.1"/>
<rect x="474.62" y="212.00" width="8.40" height="60.90" fill="#2b4b85"/>
<text class="st" transform="translate(479.07 205.4) scale(1.0 1)" font-size="7.2" text-anchor="middle" font-weight="normal" letter-spacing="0.65">**</text>
<text transform="translate(474.62 284.8) scale(0.9 1)" font-size="7.0" text-anchor="middle" font-weight="normal">TNF-α</text>
<line x1="474.62" y1="272.90" x2="474.62" y2="276.30" stroke="#111" stroke-width="1.3"/>
<line x1="494.50" y1="210.30" x2="494.50" y2="201.50" stroke="#111" stroke-width="1.1"/>
<line x1="491.90" y1="201.50" x2="497.10" y2="201.50" stroke="#111" stroke-width="1.1"/>
<rect x="490.30" y="209.30" width="8.40" height="63.60" fill="#b60b30"/>
<text class="st" transform="translate(494.75 201.4) scale(1.0 1)" font-size="7.2" text-anchor="middle" font-weight="normal" letter-spacing="0.65">**</text>
<line x1="502.90" y1="205.50" x2="502.90" y2="198.00" stroke="#111" stroke-width="1.1"/>
<line x1="500.30" y1="198.00" x2="505.50" y2="198.00" stroke="#111" stroke-width="1.1"/>
<rect x="498.70" y="204.50" width="8.40" height="68.40" fill="#2b4b85"/>
<text class="st" transform="translate(503.15 197.9) scale(1.0 1)" font-size="7.2" text-anchor="middle" font-weight="normal" letter-spacing="0.65">***</text>
<text transform="translate(498.7 284.8) scale(0.9 1)" font-size="7.0" text-anchor="middle" font-weight="normal">IL6</text>
<line x1="498.70" y1="272.90" x2="498.70" y2="276.30" stroke="#111" stroke-width="1.3"/>
<line x1="365.40" y1="172.50" x2="365.40" y2="273.60" stroke="#111" stroke-width="1.4"/>
<line x1="362.10" y1="175.50" x2="365.40" y2="175.50" stroke="#111" stroke-width="1.2"/>
<text transform="translate(359.49999999999994 177.99999999999997) scale(0.94 1)" font-size="6.7" text-anchor="end" font-weight="normal">5</text>
<line x1="362.10" y1="194.98" x2="365.40" y2="194.98" stroke="#111" stroke-width="1.2"/>
<text transform="translate(359.49999999999994 197.47999999999996) scale(0.94 1)" font-size="6.7" text-anchor="end" font-weight="normal">4</text>
<line x1="362.10" y1="214.46" x2="365.40" y2="214.46" stroke="#111" stroke-width="1.2"/>
<text transform="translate(359.49999999999994 216.95999999999998) scale(0.94 1)" font-size="6.7" text-anchor="end" font-weight="normal">3</text>
<line x1="362.10" y1="233.94" x2="365.40" y2="233.94" stroke="#111" stroke-width="1.2"/>
<text transform="translate(359.49999999999994 236.43999999999997) scale(0.94 1)" font-size="6.7" text-anchor="end" font-weight="normal">2</text>
<line x1="362.10" y1="253.42" x2="365.40" y2="253.42" stroke="#111" stroke-width="1.2"/>
<text transform="translate(359.49999999999994 255.92) scale(0.94 1)" font-size="6.7" text-anchor="end" font-weight="normal">1</text>
<line x1="362.10" y1="272.90" x2="365.40" y2="272.90" stroke="#111" stroke-width="1.2"/>
<text transform="translate(359.49999999999994 275.4) scale(0.94 1)" font-size="6.7" text-anchor="end" font-weight="normal">0</text>
<line x1="364.75" y1="272.90" x2="511.50" y2="272.90" stroke="#111" stroke-width="1.3"/>
<line x1="365.40" y1="253.42" x2="511.50" y2="253.42" stroke="#111" stroke-width="1.05" stroke-dasharray="4.1 2.8"/>
<text transform="translate(349.9 223.2) rotate(-90) scale(0.87 1)" font-size="9.0" text-anchor="middle" font-weight="normal">Protein fold, vs control</text>
<rect x="369.60" y="174.90" width="8.10" height="4.40" fill="#a50f33"/>
<text transform="translate(380.8 179.4) scale(0.92 1)" font-size="7.0" text-anchor="start" font-weight="normal">Hepatocyte</text>
<rect x="369.60" y="185.50" width="8.10" height="4.40" fill="#26437a"/>
<text transform="translate(380.8 189.8) scale(0.92 1)" font-size="7.0" text-anchor="start" font-weight="normal">Macrophage</text>
<rect x="0.00" y="0.00" width="520.00" height="1.00" fill="#000"/>
<rect x="0.00" y="0.00" width="1.40" height="296.00" fill="#000"/>
<rect x="518.35" y="0.00" width="1.65" height="296.00" fill="#000"/>
<rect x="0.00" y="294.30" width="520.00" height="1.70" fill="#000"/>
</svg>
</body></html>
